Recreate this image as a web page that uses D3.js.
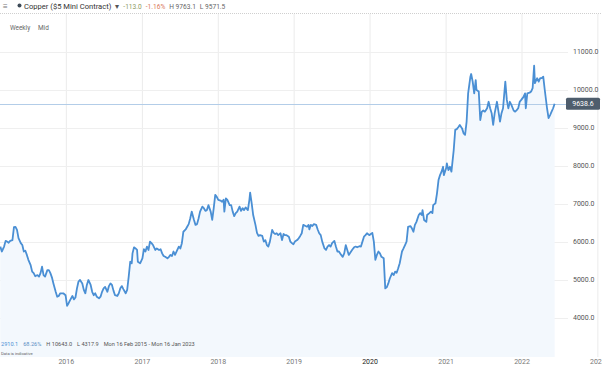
<!DOCTYPE html>
<html>
<head>
<meta charset="utf-8">
<script src="https://cdn.jsdelivr.net/npm/d3@7"></script>
<style>
  html, body { margin: 0; padding: 0; background: #fff; }
  svg { display: block; font-family: Roboto, "Noto Sans", sans-serif; }
</style>
</head>
<body>
<svg id="chart" width="602" height="366"></svg>
<script>
// weekly copper closes (decimal year, price)
const years = [
  2015.13,2015.15,2015.18,2015.20,2015.22,2015.24,2015.26,2015.29,2015.31,2015.33,
  2015.35,2015.37,2015.40,2015.42,2015.44,2015.46,2015.48,2015.50,2015.53,2015.55,
  2015.57,2015.59,2015.62,2015.64,2015.66,2015.68,2015.70,2015.72,2015.75,2015.77,
  2015.79,2015.81,2015.83,2015.86,2015.88,2015.90,2015.92,2015.94,2015.96,2015.99,
  2016.01,2016.03,2016.05,2016.08,2016.10,2016.12,2016.14,2016.16,2016.18,2016.21,
  2016.23,2016.25,2016.27,2016.29,2016.32,2016.34,2016.36,2016.38,2016.40,2016.43,
  2016.45,2016.47,2016.49,2016.51,2016.54,2016.56,2016.58,2016.60,2016.62,2016.64,
  2016.67,2016.69,2016.71,2016.73,2016.75,2016.78,2016.80,2016.82,2016.84,2016.86,
  2016.87,2016.89,2016.91,2016.93,2016.94,2016.97,2017.00,2017.02,2017.04,2017.06,
  2017.08,2017.10,2017.12,2017.14,2017.17,2017.19,2017.22,2017.24,2017.26,2017.28,
  2017.30,2017.33,2017.35,2017.37,2017.39,2017.41,2017.43,2017.46,2017.48,2017.50,
  2017.52,2017.54,2017.57,2017.59,2017.61,2017.63,2017.65,2017.68,2017.70,2017.72,
  2017.74,2017.76,2017.79,2017.81,2017.83,2017.85,2017.87,2017.90,2017.92,2017.94,
  2017.96,2017.98,2018.00,2018.03,2018.05,2018.07,2018.08,2018.10,2018.12,2018.15,
  2018.17,2018.19,2018.21,2018.23,2018.25,2018.28,2018.30,2018.32,2018.34,2018.36,
  2018.39,2018.41,2018.42,2018.44,2018.46,2018.49,2018.51,2018.53,2018.55,2018.58,
  2018.60,2018.62,2018.64,2018.66,2018.68,2018.71,2018.73,2018.75,2018.77,2018.79,
  2018.82,2018.84,2018.86,2018.88,2018.90,2018.93,2018.95,2018.97,2018.99,2019.01,
  2019.04,2019.06,2019.08,2019.10,2019.12,2019.15,2019.17,2019.19,2019.20,2019.22,
  2019.24,2019.26,2019.29,2019.31,2019.33,2019.35,2019.37,2019.40,2019.42,2019.44,
  2019.46,2019.48,2019.50,2019.53,2019.55,2019.57,2019.59,2019.62,2019.64,2019.66,
  2019.68,2019.70,2019.72,2019.75,2019.77,2019.79,2019.81,2019.83,2019.86,2019.88,
  2019.90,2019.92,2019.94,2019.96,2019.99,2020.01,2020.03,2020.05,2020.07,2020.09,
  2020.11,2020.13,2020.15,2020.18,2020.20,2020.22,2020.24,2020.26,2020.29,2020.31,
  2020.33,2020.35,2020.37,2020.39,2020.42,2020.44,2020.46,2020.48,2020.50,2020.53,
  2020.55,2020.57,2020.59,2020.61,2020.64,2020.66,2020.68,2020.69,2020.71,2020.74,
  2020.75,2020.78,2020.80,2020.82,2020.83,2020.86,2020.88,2020.90,2020.92,2020.94,
  2020.96,2020.97,2021.00,2021.01,2021.03,2021.05,2021.07,2021.10,2021.12,2021.14,
  2021.16,2021.18,2021.21,2021.23,2021.25,2021.27,2021.29,2021.32,2021.33,2021.35,
  2021.37,2021.39,2021.40,2021.43,2021.45,2021.47,2021.49,2021.51,2021.54,2021.56,
  2021.58,2021.60,2021.62,2021.64,2021.67,2021.69,2021.71,2021.73,2021.75,2021.78,
  2021.80,2021.82,2021.84,2021.86,2021.89,2021.91,2021.93,2021.95,2021.97,2021.99,
  2022.02,2022.04,2022.05,2022.07,2022.10,2022.12,2022.14,2022.16,2022.17,2022.20,
  2022.22,2022.24,2022.26,2022.28,2022.30,2022.33,2022.35,2022.37,2022.39,2022.41,
  2022.43
];

const prices = [
  5880,5750,5880,6030,6010,5980,6030,6050,6390,6400,
  6320,6100,5970,5920,5750,5770,5660,5530,5390,5220,
  5180,5100,5130,5090,5180,5350,5130,5090,5260,5260,
  5180,5070,4910,4690,4560,4580,4650,4650,4650,4600,
  4320,4390,4470,4580,4490,4540,4780,4960,5000,4910,
  4740,4650,4870,5000,4870,4690,4600,4650,4560,4520,
  4560,4690,4780,4820,4690,4840,4910,4870,4720,4600,
  4580,4650,4780,4840,4760,4650,4740,5090,5480,5440,
  5700,5860,5830,5790,5480,5440,5570,5810,5750,5880,
  5790,6010,5970,5920,5790,5830,5790,5810,5700,5630,
  5610,5570,5610,5660,5630,5750,5660,5790,5880,5830,
  5970,6270,6330,6400,6470,6620,6800,6580,6450,6470,
  6620,6800,6930,6890,6820,6840,6970,6800,6580,6890,
  7240,7190,7110,7090,7060,7110,6800,7150,7110,6970,
  6970,6800,6680,6760,6800,6930,6820,6890,6840,6910,
  6840,7110,7300,7020,6710,6450,6240,6160,6180,6160,
  6010,6050,5920,5880,6010,6320,6240,6210,6230,6180,
  6230,6050,6210,6180,6180,6140,6010,5970,5940,6010,
  6050,6100,6160,6230,6450,6420,6400,6450,6330,6450,
  6420,6470,6450,6330,6230,6180,6010,5830,5790,5880,
  5920,5880,5970,6030,5880,5750,5750,5660,5610,5700,
  5920,5790,5660,5750,5810,5860,5880,5860,5890,5880,
  6010,6140,6180,6230,6180,6210,6240,6010,5530,5660,
  5750,5700,5610,5570,4780,4810,4910,5040,5180,5130,
  5220,5190,5310,5440,5750,5830,5920,6010,6400,6420,
  6360,6270,6450,6530,6710,6760,6710,6840,6580,6530,
  6710,6760,6800,6760,6970,7020,7280,7630,7760,7850,
  7980,7760,7940,8070,7890,7980,7850,8420,8950,8970,
  9020,9080,8990,8860,8820,9170,9910,10350,10420,10220,
  9910,10260,10000,9960,9210,9430,9460,9430,9520,9690,
  9520,9390,9080,9390,9690,9430,9170,9390,9520,10220,
  9740,9520,9690,9610,9460,9430,9470,9520,9690,9740,
  9820,9910,9520,9910,9930,9960,10050,10640,10180,10310,
  10220,10310,10310,10350,10000,9520,9260,9340,9430,9520,
  9640
];

const priceTicks = [4000, 5000, 6000, 7000, 8000, 9000, 10000, 11000];
const lastPrice = 9638.6;

const headerParts = [
  { text: "Copper ($5 Mini Contract)", color: "#333" },
  { text: "▾", color: "#555" },
  { text: "-113.0", color: "#8c9a64" },
  { text: "-1.16%", color: "#d9785a" },
  { text: "H 9763.1", color: "#666" },
  { text: "L 9571.5", color: "#666" }
];

const statsParts = [
  { text: "2910.1", color: "#4a8fd4" },
  { text: "68.26%", color: "#5b8fc4" },
  { text: "H 10643.0", color: "#555" },
  { text: "L 4317.9", color: "#555" },
  { text: "Mon 16 Feb 2015 - Mon 16 Jan 2023", color: "#555" }
];

// decimal year -> Date
function toDate(t) {
  const y = Math.floor(t);
  const s = Date.UTC(y, 0, 1), e = Date.UTC(y + 1, 0, 1);
  return new Date(s + (t - y) * (e - s));
}

const data = years.map((t, i) => ({ date: toDate(t), value: prices[i] }));

const svg = d3.select("#chart");
const width = 602;
const plotTop = 14, plotBottom = 357, plotRight = 568;

const x = d3.scaleUtc()
  .domain([new Date(Date.UTC(2015, 1, 16)), new Date(Date.UTC(2023, 0, 16))])
  .range([0, 601]);

const y = d3.scaleLinear()
  .domain([4000, 11000])
  .range([318, 52]);

svg.append("rect").attr("width", width).attr("height", 366).attr("fill", "#fff");

// vertical year grid
const yearTicks = x.ticks(d3.utcYear.every(1)).filter(d => x(d) > 5 && x(d) < width);
svg.append("g")
  .selectAll("line")
  .data(yearTicks)
  .join("line")
  .attr("x1", d => x(d)).attr("x2", d => x(d))
  .attr("y1", plotTop).attr("y2", plotBottom)
  .attr("stroke", "#ebebeb")
  .attr("stroke-width", 1);

// horizontal price grid
svg.append("g")
  .selectAll("line")
  .data(priceTicks)
  .join("line")
  .attr("x1", 0).attr("x2", plotRight)
  .attr("y1", d => Math.round(y(d)) + 0.5).attr("y2", d => Math.round(y(d)) + 0.5)
  .attr("stroke", "#efefef");

// area under the line
const area = d3.area()
  .x(d => x(d.date))
  .y0(plotBottom)
  .y1(d => y(d.value));

svg.append("path")
  .datum(data)
  .attr("d", area)
  .attr("fill", "#f3f8fd");

// last price reference line
svg.append("line")
  .attr("x1", 0).attr("x2", 566)
  .attr("y1", Math.round(y(lastPrice)) + 0.5).attr("y2", Math.round(y(lastPrice)) + 0.5)
  .attr("stroke", "#b3cde8")
  .attr("stroke-width", 1);

// price line
const line = d3.line()
  .x(d => x(d.date))
  .y(d => y(d.value));

svg.append("path")
  .datum(data)
  .attr("d", line)
  .attr("fill", "none")
  .attr("stroke", "#4a8fd4")
  .attr("stroke-width", 1.8)
  .attr("stroke-linejoin", "round");

// y labels
svg.append("g")
  .selectAll("text")
  .data(priceTicks)
  .join("text")
  .attr("x", 573)
  .attr("y", d => y(d))
  .attr("dy", "0.35em")
  .attr("font-size", 7)
  .attr("fill", "#555")
  .text(d3.format(".1f"));

// last price tag
const tagY = y(lastPrice);
svg.append("rect")
  .attr("x", 566).attr("y", tagY - 6)
  .attr("width", 34).attr("height", 12)
  .attr("rx", 1.5)
  .attr("fill", "#4e5d6c");
svg.append("text")
  .attr("x", 583).attr("y", tagY)
  .attr("dy", "0.35em")
  .attr("text-anchor", "middle")
  .attr("font-size", 7)
  .attr("fill", "#fff")
  .text(lastPrice.toFixed(1));

// year labels
svg.append("g")
  .selectAll("text")
  .data(yearTicks)
  .join("text")
  .attr("x", d => x(d))
  .attr("y", 364)
  .attr("text-anchor", "middle")
  .attr("font-size", 7)
  .attr("fill", d => d.getUTCFullYear() === 2020 ? "#222" : "#777")
  .text(d => d.getUTCFullYear());

// header
svg.append("line")
  .attr("x1", 0).attr("x2", width)
  .attr("y1", 13.5).attr("y2", 13.5)
  .attr("stroke", "#cfcfcf")
  .attr("stroke-dasharray", "1,1");

svg.append("text")
  .attr("x", 3).attr("y", 8.5)
  .attr("font-size", 8)
  .attr("fill", "#777")
  .text("≡");
svg.append("circle")
  .attr("cx", 19.5).attr("cy", 5.5).attr("r", 2)
  .attr("fill", "#3d4a57");

const header = svg.append("text")
  .attr("x", 24).attr("y", 8.5)
  .attr("font-size", 7.6);
headerParts.forEach((p, i) => {
  header.append("tspan")
    .attr("dx", i === 0 ? 0 : (i === 1 ? 4 : 4))
    .attr("fill", p.color)
    .attr("font-size", i >= 2 ? 6.6 : 7.6)
    .text(p.text);
});

svg.append("text")
  .attr("x", 10).attr("y", 30)
  .attr("font-size", 6.4)
  .attr("fill", "#666")
  .text("Weekly");
svg.append("text")
  .attr("x", 38).attr("y", 30)
  .attr("font-size", 6.4)
  .attr("fill", "#666")
  .text("Mid");

// bottom stats
const stats = svg.append("text")
  .attr("x", 1).attr("y", 346)
  .attr("font-size", 5.6);
statsParts.forEach((p, i) => {
  stats.append("tspan")
    .attr("dx", i === 0 ? 0 : 5)
    .attr("fill", p.color)
    .text(p.text);
});
svg.append("text")
  .attr("x", 1).attr("y", 354.5)
  .attr("font-size", 4.2)
  .attr("fill", "#666")
  .text("Data is indicative");
</script>
</body>
</html>
